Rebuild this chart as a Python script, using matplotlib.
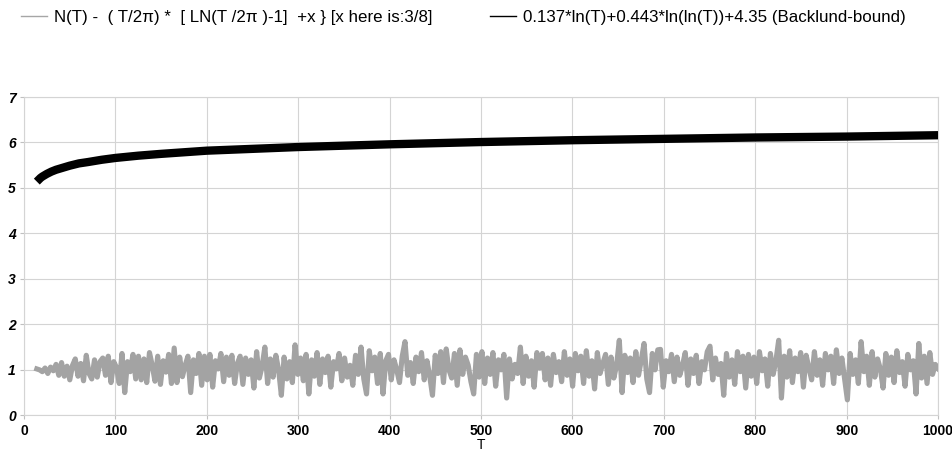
import numpy as np
import matplotlib
matplotlib.use("Agg")
import matplotlib.pyplot as plt
from matplotlib.lines import Line2D

plt.rcParams['font.family'] = ['Liberation Sans', 'DejaVu Sans']

# gray series: N(T) minus smooth part (T from 14 to 1000)
T_start = 14
T_end = 1000
gray_vals = [
    1.02, 1.00, 0.96, 1.04, 0.92, 1.06, 0.98, 1.12, 0.88, 1.16, 0.86, 1.08, 0.78, 1.10, 1.24, 0.86, 1.14, 0.76, 1.32, 0.92, 0.80, 1.22, 0.84, 1.18, 1.26, 0.88, 1.30, 0.72, 1.18,
    1.05, 0.70, 1.36, 0.50, 1.18, 0.96, 1.34, 0.80, 1.30, 0.78, 1.24, 0.72, 1.38, 1.10, 0.75, 1.30, 0.68, 1.20, 0.95, 1.34, 0.70, 1.48, 0.72, 1.28, 0.85, 1.10, 1.30, 0.50, 1.22, 0.92, 1.36, 0.66, 1.30,
    0.78, 1.34, 0.62, 1.20, 1.02, 1.36, 0.74, 1.28, 0.88, 1.32, 0.70, 1.14, 1.30, 0.68, 1.26, 0.90, 1.22, 0.60, 1.40, 0.82, 1.08, 1.50, 0.70, 1.24, 0.84, 1.32, 1.00, 0.44, 1.28, 0.80, 1.18, 0.72, 1.55,
    0.90, 1.26, 0.76, 1.34, 0.47, 1.22, 0.86, 1.38, 0.68, 1.24, 0.94, 1.30, 0.62, 1.18, 1.02, 1.36, 0.76, 1.26, 0.84, 1.10, 0.66, 1.32, 0.90, 1.50, 0.80, 0.47, 1.42, 0.98, 1.28, 0.70, 1.36, 0.47, 1.20,
    1.34, 0.78, 1.22, 1.00, 0.72, 1.30, 1.62, 0.88, 1.16, 0.70, 1.28, 0.96, 1.38, 0.78, 1.20, 0.86, 0.44, 1.32, 0.92, 1.40, 0.72, 1.46, 1.00, 0.82, 1.36, 0.66, 1.44, 0.90, 1.28, 1.10, 0.74, 0.47, 1.34,
    0.84, 1.40, 0.70, 1.26, 0.90, 1.38, 0.64, 1.22, 1.00, 1.34, 0.38, 1.24, 0.80, 1.12, 0.92, 1.50, 0.70, 1.30, 0.86, 1.20, 0.62, 1.38, 1.04, 1.36, 0.78, 1.26, 0.66, 1.34, 0.94, 1.18, 0.74, 1.40, 0.88,
    1.24, 0.64, 1.36, 0.98, 1.30, 0.70, 1.42, 0.86, 1.20, 0.58, 1.38, 0.92, 1.14, 1.34, 0.68, 1.28, 0.82, 1.10, 1.65, 0.50, 1.32, 0.94, 1.26, 0.72, 1.40, 0.88, 1.22, 1.58, 0.80, 0.50, 1.36, 1.00, 1.44,
    1.45, 0.62, 1.20, 0.96, 1.34, 0.74, 1.28, 0.88, 1.10, 1.38, 0.66, 1.24, 0.92, 1.32, 0.70, 1.18, 1.00, 1.40, 1.52, 0.78, 1.26, 0.90, 1.14, 0.44, 1.36, 0.84, 1.22, 0.68, 1.40, 0.96, 1.30, 0.60, 1.34,
    0.86, 1.28, 0.70, 1.40, 0.98, 1.24, 0.64, 1.36, 0.90, 1.20, 1.65, 0.38, 1.30, 0.84, 1.42, 0.72, 1.26, 0.96, 1.38, 0.62, 1.32, 1.04, 0.78, 1.40, 0.88, 1.22, 0.66, 1.36, 1.00, 1.30, 0.70, 1.44, 0.92,
    1.26, 0.80, 0.34, 1.36, 0.90, 1.22, 0.70, 1.62, 0.96, 1.30, 0.66, 1.40, 0.84, 1.24, 1.02, 0.60, 1.36, 0.88, 1.28, 0.72, 1.42, 0.94, 1.18, 0.64, 1.34, 1.00, 1.20, 0.47, 1.58, 0.82, 1.30, 0.70, 1.38, 0.90, 1.12, 1.03,
]

# black curve (Backlund bound), values read at these T
bound_T = [14, 16, 18, 20, 25, 30, 35, 40, 50, 60, 70, 85, 100, 125, 150, 200, 250, 300, 400, 500, 600, 700, 800, 900, 1000]
bound_vals = [5.14, 5.18, 5.22, 5.25, 5.31, 5.36, 5.40, 5.43, 5.49, 5.54, 5.57, 5.62, 5.66, 5.71, 5.75, 5.82, 5.86, 5.90, 5.96, 6.01, 6.05, 6.08, 6.11, 6.13, 6.16]

x_ticks = list(range(0, 1001, 100))
y_ticks = list(range(0, 8))
labels = ["N(T) -  ( T/2\u03c0) *  [ LN(T /2\u03c0 )-1]  +x } [x here is:3/8]",
          "0.137*ln(T)+0.443*ln(ln(T))+4.35 (Backlund-bound)"]

gray_T = np.linspace(T_start, T_end, len(gray_vals))

fig = plt.figure(figsize=(9.53, 4.54), dpi=100)
ax = fig.add_axes([0.0252, 0.0852, 0.9591, 0.7011])

ax.plot(gray_T, gray_vals, color="#a3a3a3", lw=3.7, solid_joinstyle="round", zorder=3)
ax.plot(bound_T, bound_vals, color="black", lw=6.0, solid_capstyle="butt", zorder=4)

ax.set_xlim(0, 1000)
ax.set_ylim(0, 7)
ax.set_xticks(x_ticks)
ax.set_yticks(y_ticks)
ax.grid(True, color="#d4d4d4", lw=0.8)
ax.set_axisbelow(True)
for s in ax.spines.values():
    s.set_color("#d4d4d4")
    s.set_linewidth(0.8)
ax.tick_params(length=3, color="#c0c0c0", labelsize=10, pad=3)
for t in ax.get_xticklabels():
    t.set_fontweight("bold")
for t in ax.get_yticklabels():
    t.set_fontweight("bold")
    t.set_fontstyle("italic")
ax.set_xlabel("T", fontsize=10, labelpad=0)

handles = [Line2D([], [], color="#a6a6a6", lw=1.0),
           Line2D([], [], color="black", lw=1.0)]
fig.legend(handles, labels, loc="upper left", bbox_to_anchor=(11 / 953, 1.0),
           ncol=2, frameon=False, fontsize=12.2, handlelength=1.5,
           handletextpad=0.45, columnspacing=3.4, borderpad=0.1)

fig.savefig("out.png", dpi=100)
